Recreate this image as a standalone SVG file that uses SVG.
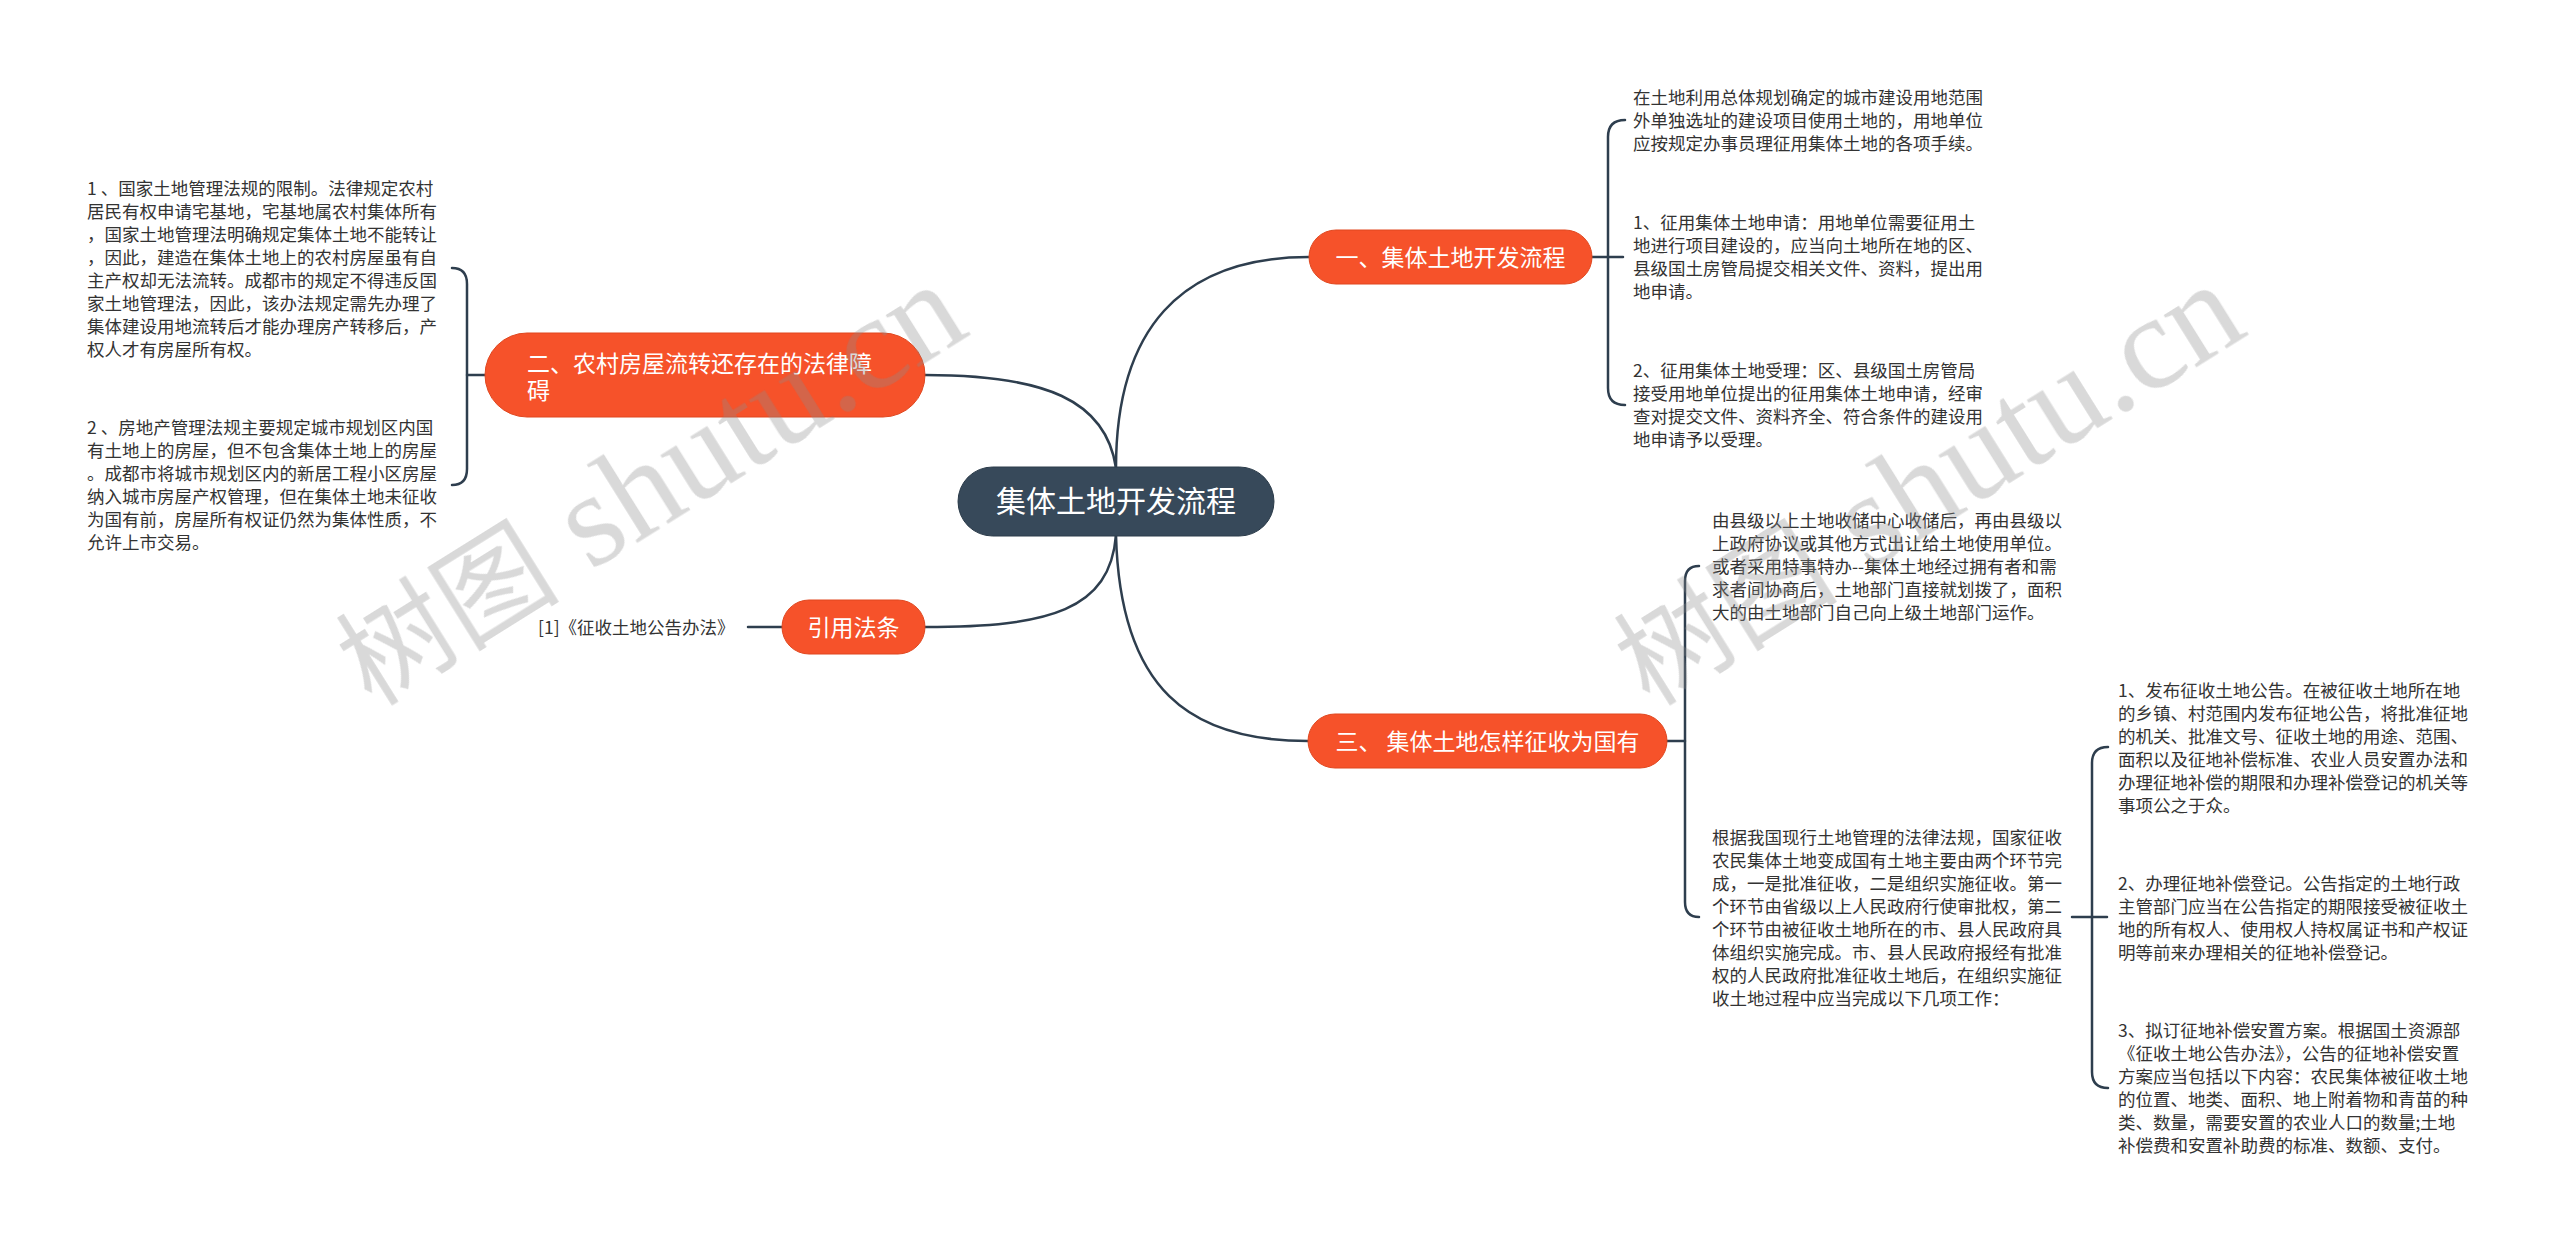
<svg xmlns="http://www.w3.org/2000/svg" width="2560" height="1242" viewBox="0 0 2560 1242">
<style>
.t{font-family:"Noto Sans CJK SC","Noto Sans",sans-serif;font-size:17.5px;fill:#333333}
.nt{font-family:"Noto Sans CJK SC","Noto Sans",sans-serif;font-size:23px;fill:#ffffff}
.ct{font-family:"Noto Sans CJK SC","Noto Sans",sans-serif;font-size:30px;fill:#ffffff}
.orange{fill:#f6522a;stroke:#e0471f;stroke-width:1}
.root{fill:#37495a;stroke:#2c3c4a;stroke-width:1}
.edge{fill:none;stroke:#2e3e4e;stroke-width:2.5;stroke-linecap:round}
.wm{fill:#8c8c8c;opacity:0.33}
.wmc{font-family:"Noto Sans CJK SC",sans-serif;font-size:112px}
.wml{font-family:"Liberation Serif",serif;font-size:134px}
</style>
<rect width="2560" height="1242" fill="#ffffff"/>

<g id="connectors">
<path class="edge" d="M1116,468 C1116,330 1180,257 1309,257"/>
<path class="edge" d="M925,375 C1045,375 1106,400 1116,468"/>
<path class="edge" d="M1116,535 C1110,610 1050,627 925,627"/>
<path class="edge" d="M1116,535 C1120,690 1190,741 1308,741"/>
<path class="edge" d="M782,627 L748,627"/>
<path class="edge" d="M485,375 L467,375"/>
<path class="edge" d="M452,268 Q467,268 467,284 L467,469 Q467,485 452,485"/>
<path class="edge" d="M1592,257 L1623,257"/>
<path class="edge" d="M1625,120 Q1608,120 1608,137 L1608,388 Q1608,405 1625,405"/>
<path class="edge" d="M1667,741 L1685,741"/>
<path class="edge" d="M1699,566 Q1685,566 1685,581 L1685,902 Q1685,917 1699,917"/>
<path class="edge" d="M2072,917 L2107,917"/>
<path class="edge" d="M2108,747 Q2092,747 2092,763 L2092,1072 Q2092,1088 2108,1088"/>
</g>

<g id="root">
<rect class="root" x="958" y="467" width="316" height="69" rx="34.5"/>
<text class="ct" x="1116" y="512" text-anchor="middle">集体土地开发流程</text>
</g>

<g id="n1">
<rect class="orange" x="1309" y="230" width="283" height="54" rx="27"/>
<text class="nt" x="1450.5" y="265.5" text-anchor="middle">一、集体土地开发流程</text>
</g>

<g id="n2">
<rect class="orange" x="485" y="333" width="440" height="84" rx="42"/>
<text class="nt"><tspan x="527" y="371.5">二、农村房屋流转还存在的法律障</tspan><tspan x="527" y="398.5">碍</tspan></text>
</g>

<g id="n3">
<rect class="orange" x="782" y="600" width="143" height="54" rx="27"/>
<text class="nt" x="853.5" y="635.5" text-anchor="middle">引用法条</text>
</g>

<g id="n4">
<rect class="orange" x="1308" y="714" width="359" height="54" rx="27"/>
<text class="nt" x="1487.5" y="749.5" text-anchor="middle">三、 集体土地怎样征收为国有</text>
</g>

<g id="n2a">
<text class="t"><tspan x="87" y="195">1 、国家土地管理法规的限制。法律规定农村</tspan><tspan x="87" y="218">居民有权申请宅基地，宅基地属农村集体所有</tspan><tspan x="87" y="241">，国家土地管理法明确规定集体土地不能转让</tspan><tspan x="87" y="264">，因此，建造在集体土地上的农村房屋虽有自</tspan><tspan x="87" y="287">主产权却无法流转。成都市的规定不得违反国</tspan><tspan x="87" y="310">家土地管理法，因此，该办法规定需先办理了</tspan><tspan x="87" y="333">集体建设用地流转后才能办理房产转移后，产</tspan><tspan x="87" y="356">权人才有房屋所有权。</tspan></text>
</g>

<g id="n2b">
<text class="t"><tspan x="87" y="433.5">2 、房地产管理法规主要规定城市规划区内国</tspan><tspan x="87" y="456.5">有土地上的房屋，但不包含集体土地上的房屋</tspan><tspan x="87" y="479.5">。成都市将城市规划区内的新居工程小区房屋</tspan><tspan x="87" y="502.5">纳入城市房屋产权管理，但在集体土地未征收</tspan><tspan x="87" y="525.5">为国有前，房屋所有权证仍然为集体性质，不</tspan><tspan x="87" y="548.5">允许上市交易。</tspan></text>
</g>

<g id="n3a">
<text class="t" x="538" y="633.5">[1]《征收土地公告办法》</text>
</g>

<g id="n1a">
<text class="t"><tspan x="1633" y="103.5">在土地利用总体规划确定的城市建设用地范围</tspan><tspan x="1633" y="126.5">外单独选址的建设项目使用土地的，用地单位</tspan><tspan x="1633" y="149.5">应按规定办事员理征用集体土地的各项手续。</tspan></text>
</g>

<g id="n1b">
<text class="t"><tspan x="1633" y="229">1、征用集体土地申请：用地单位需要征用土</tspan><tspan x="1633" y="252">地进行项目建设的，应当向土地所在地的区、</tspan><tspan x="1633" y="275">县级国土房管局提交相关文件、资料，提出用</tspan><tspan x="1633" y="298">地申请。</tspan></text>
</g>

<g id="n1c">
<text class="t"><tspan x="1633" y="377">2、征用集体土地受理：区、县级国土房管局</tspan><tspan x="1633" y="400">接受用地单位提出的征用集体土地申请，经审</tspan><tspan x="1633" y="423">查对提交文件、资料齐全、符合条件的建设用</tspan><tspan x="1633" y="446">地申请予以受理。</tspan></text>
</g>

<g id="n4a">
<text class="t"><tspan x="1712" y="527">由县级以上土地收储中心收储后，再由县级以</tspan><tspan x="1712" y="550">上政府协议或其他方式出让给土地使用单位。</tspan><tspan x="1712" y="573">或者采用特事特办--集体土地经过拥有者和需</tspan><tspan x="1712" y="596">求者间协商后，土地部门直接就划拨了，面积</tspan><tspan x="1712" y="619">大的由土地部门自己向上级土地部门运作。</tspan></text>
</g>

<g id="n4b">
<text class="t"><tspan x="1712" y="843.5">根据我国现行土地管理的法律法规，国家征收</tspan><tspan x="1712" y="866.5">农民集体土地变成国有土地主要由两个环节完</tspan><tspan x="1712" y="889.5">成，一是批准征收，二是组织实施征收。第一</tspan><tspan x="1712" y="912.5">个环节由省级以上人民政府行使审批权，第二</tspan><tspan x="1712" y="935.5">个环节由被征收土地所在的市、县人民政府具</tspan><tspan x="1712" y="958.5">体组织实施完成。市、县人民政府报经有批准</tspan><tspan x="1712" y="981.5">权的人民政府批准征收土地后，在组织实施征</tspan><tspan x="1712" y="1004.5">收土地过程中应当完成以下几项工作：</tspan></text>
</g>

<g id="n4b1">
<text class="t"><tspan x="2118" y="697">1、发布征收土地公告。在被征收土地所在地</tspan><tspan x="2118" y="720">的乡镇、村范围内发布征地公告，将批准征地</tspan><tspan x="2118" y="743">的机关、批准文号、征收土地的用途、范围、</tspan><tspan x="2118" y="766">面积以及征地补偿标准、农业人员安置办法和</tspan><tspan x="2118" y="789">办理征地补偿的期限和办理补偿登记的机关等</tspan><tspan x="2118" y="812">事项公之于众。</tspan></text>
</g>

<g id="n4b2">
<text class="t"><tspan x="2118" y="890">2、办理征地补偿登记。公告指定的土地行政</tspan><tspan x="2118" y="913">主管部门应当在公告指定的期限接受被征收土</tspan><tspan x="2118" y="936">地的所有权人、使用权人持权属证书和产权证</tspan><tspan x="2118" y="959">明等前来办理相关的征地补偿登记。</tspan></text>
</g>

<g id="n4b3">
<text class="t"><tspan x="2118" y="1037">3、拟订征地补偿安置方案。根据国土资源部</tspan><tspan x="2118" y="1060">《征收土地公告办法》，公告的征地补偿安置</tspan><tspan x="2118" y="1083">方案应当包括以下内容：农民集体被征收土地</tspan><tspan x="2118" y="1106">的位置、地类、面积、地上附着物和青苗的种</tspan><tspan x="2118" y="1129">类、数量，需要安置的农业人口的数量;土地</tspan><tspan x="2118" y="1152">补偿费和安置补助费的标准、数额、支付。</tspan></text>
</g>

<g id="watermarks" class="wm">
<text transform="translate(372,708) rotate(-32)"><tspan class="wmc">树图</tspan><tspan class="wml"> shutu.cn</tspan></text>
<text transform="translate(1650,708) rotate(-32)"><tspan class="wmc">树图</tspan><tspan class="wml"> shutu.cn</tspan></text>
</g>
</svg>
